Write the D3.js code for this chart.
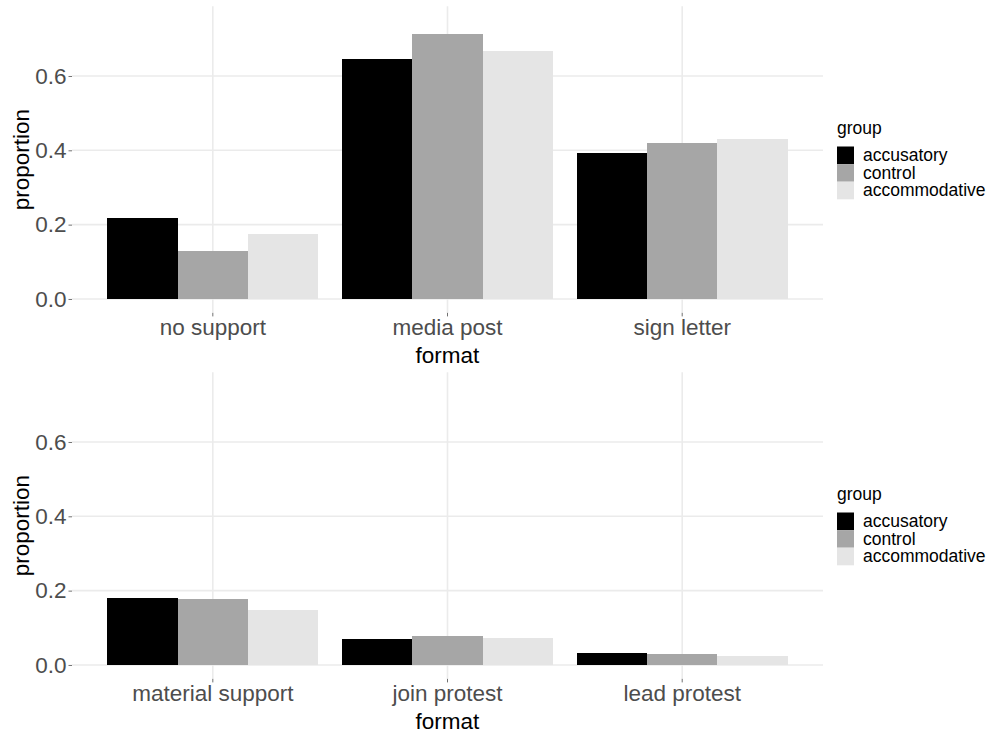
<!DOCTYPE html>
<html>
<head>
<meta charset="utf-8">
<script src="https://cdn.jsdelivr.net/npm/d3@7"></script>
<style>
  html, body { margin: 0; padding: 0; background: #fff; }
  svg { display: block; }
  text { font-family: "Liberation Sans", Arial, Helvetica, sans-serif; }
</style>
</head>
<body>
<svg id="chart" width="995" height="738"></svg>
<script>
// ---- data ----
const groups = ["accusatory", "control", "accommodative"];
const groupColors = ["#000000", "#A6A6A6", "#E5E5E5"];
const topCategories = ["no support", "media post", "sign letter"];
const topAccusatory = [0.218, 0.646, 0.393];
const topControl = [0.129, 0.713, 0.420];
const topAccommodative = [0.175, 0.667, 0.430];
const bottomCategories = ["material support", "join protest", "lead protest"];
const bottomAccusatory = [0.180, 0.070, 0.032];
const bottomControl = [0.178, 0.078, 0.030];
const bottomAccommodative = [0.149, 0.073, 0.024];
const yTicks = [0.0, 0.2, 0.4, 0.6];
const yTickLabels = ["0.0", "0.2", "0.4", "0.6"];
const xTitle = "format";
const yTitle = "proportion";
const legendTitle = "group";

const svg = d3.select("#chart");
const color = d3.scaleOrdinal().domain(groups).range(groupColors);

function panel(offsetY, categories, series) {
  const g = svg.append("g").attr("transform", `translate(0,${offsetY})`);
  const left = 72, right = 823, top = 6.3, bottom = 312.9;

  const x = d3.scaleBand().domain(categories).range([left, right])
    .paddingInner(0.1).paddingOuter(0.15).align(0.5);
  const xg = d3.scaleBand().domain(groups).range([0, x.bandwidth()]).padding(0);
  const y = d3.scaleLinear().domain([-0.0375, 0.7875]).range([bottom, top]);

  // gridlines
  g.append("g").selectAll("line.h").data(yTicks).join("line")
    .attr("x1", left).attr("x2", right)
    .attr("y1", d => y(d)).attr("y2", d => y(d))
    .attr("stroke", "#EBEBEB").attr("stroke-width", 1.6);
  g.append("g").selectAll("line.v").data(categories).join("line")
    .attr("x1", d => x(d) + x.bandwidth() / 2).attr("x2", d => x(d) + x.bandwidth() / 2)
    .attr("y1", top).attr("y2", bottom)
    .attr("stroke", "#EBEBEB").attr("stroke-width", 1.6);

  // bars
  const rows = [];
  categories.forEach((c, i) => groups.forEach((gr, j) => rows.push({ c, gr, v: series[j][i] })));
  g.append("g").selectAll("rect").data(rows).join("rect")
    .attr("x", d => x(d.c) + xg(d.gr))
    .attr("width", xg.bandwidth())
    .attr("y", d => y(d.v))
    .attr("height", d => y(0) - y(d.v))
    .attr("fill", d => color(d.gr))
    .attr("shape-rendering", "crispEdges");

  // y axis
  const yAxis = d3.axisLeft(y).tickValues(yTicks)
    .tickFormat((d, i) => yTickLabels[i]).tickSize(3.5).tickPadding(2);
  const ya = g.append("g").attr("transform", `translate(${left},0)`).call(yAxis);
  ya.select(".domain").remove();
  ya.selectAll(".tick line").attr("stroke", "#333333").attr("stroke-width", 0.7);
  ya.selectAll(".tick text").attr("fill", "#4D4D4D")
    .style("font-size", "22.5px").style("font-family", '"Liberation Sans", Arial, sans-serif');

  // x axis
  const xAxis = d3.axisBottom(x).tickSize(3.5).tickPadding(3);
  const xa = g.append("g").attr("transform", `translate(0,${bottom})`).call(xAxis);
  xa.select(".domain").remove();
  xa.selectAll(".tick line").attr("stroke", "#333333").attr("stroke-width", 0.7);
  xa.selectAll(".tick text").attr("fill", "#4D4D4D")
    .style("font-size", "22.5px").style("font-family", '"Liberation Sans", Arial, sans-serif');

  // axis titles
  g.append("text").attr("x", (left + right) / 2).attr("y", 363)
    .attr("text-anchor", "middle").attr("fill", "#000")
    .style("font-size", "22.5px").text(xTitle);
  g.append("text").attr("transform", `translate(29,${(top + bottom) / 2}) rotate(-90)`)
    .attr("text-anchor", "middle").attr("fill", "#000")
    .style("font-size", "22.5px").text(yTitle);

  // legend
  const lg = g.append("g").attr("transform", "translate(837,0)");
  lg.append("text").attr("x", 0).attr("y", 134).attr("fill", "#000")
    .style("font-size", "17.5px").text(legendTitle);
  const items = lg.selectAll("g.item").data(groups).join("g")
    .attr("transform", (d, i) => `translate(0,${146.5 + i * 17.6})`);
  items.append("rect").attr("width", 17).attr("height", 17.6)
    .attr("fill", d => color(d));
  items.append("text").attr("x", 26).attr("y", 14.5).attr("fill", "#000")
    .style("font-size", "17.5px").text(d => d);
}

panel(0, topCategories, [topAccusatory, topControl, topAccommodative]);
panel(366, bottomCategories, [bottomAccusatory, bottomControl, bottomAccommodative]);
</script>
</body>
</html>
